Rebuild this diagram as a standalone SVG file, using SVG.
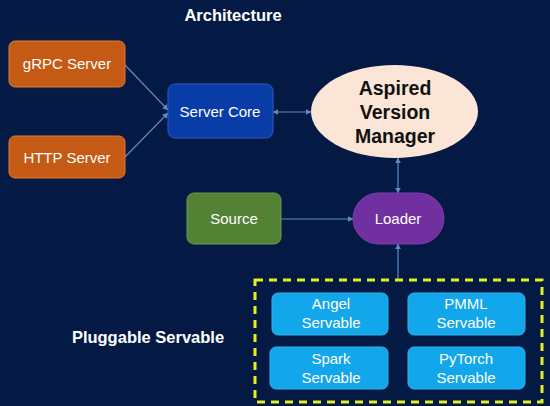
<svg xmlns="http://www.w3.org/2000/svg" width="550" height="406" viewBox="0 0 550 406">
  <defs>
    <marker id="ah" viewBox="0 0 10 10" refX="9" refY="5" markerWidth="6" markerHeight="6" orient="auto-start-reverse" markerUnits="userSpaceOnUse">
      <path d="M0,0 L10,5 L0,10 z" fill="#5b8ac6"/>
    </marker>
    <style>
      .lbl { font-family: "Liberation Sans", Arial, sans-serif; font-size: 15px; fill: #ffffff; text-anchor: middle; }
      .ttl { font-family: "Liberation Sans", Arial, sans-serif; font-size: 16.5px; font-weight: bold; fill: #ffffff; }
      .avm { font-family: "Liberation Sans", Arial, sans-serif; font-size: 19.5px; font-weight: bold; fill: #111111; text-anchor: middle; }
      .edge { stroke: #5b8ac6; stroke-width: 1.2; fill: none; }
      .srv { fill: #12a6ea; stroke: #2ab4f0; stroke-width: 1; }
      .svl { font-family: "Liberation Sans", Arial, sans-serif; font-size: 15px; fill: #ffffff; text-anchor: middle; }
    </style>
  </defs>
  <rect x="0" y="0" width="550" height="406" fill="#041a45"/>

  <text class="ttl" x="233" y="21" text-anchor="middle">Architecture</text>
  <text class="ttl" x="148" y="343" text-anchor="middle">Pluggable Servable</text>

  <g id="connectors">
    <line class="edge" x1="125" y1="65" x2="168" y2="110" marker-end="url(#ah)"/>
    <line class="edge" x1="125" y1="157" x2="168" y2="113" marker-end="url(#ah)"/>
    <line class="edge" x1="273" y1="112" x2="311" y2="112" marker-start="url(#ah)" marker-end="url(#ah)"/>
    <line class="edge" x1="398" y1="158" x2="398" y2="193" marker-start="url(#ah)" marker-end="url(#ah)"/>
    <line class="edge" x1="281" y1="219" x2="353" y2="219" marker-end="url(#ah)"/>
    <line class="edge" x1="398" y1="279" x2="398" y2="244" marker-end="url(#ah)"/>
  </g>

  <g id="grpc-server">
    <rect x="9" y="41" width="116" height="46" rx="6" fill="#c55a14" stroke="#df7a36" stroke-width="1"/>
    <text class="lbl" x="67" y="69">gRPC Server</text>
  </g>
  <g id="http-server">
    <rect x="9" y="136" width="116" height="42" rx="6" fill="#c55a14" stroke="#df7a36" stroke-width="1"/>
    <text class="lbl" x="67" y="163">HTTP Server</text>
  </g>
  <g id="server-core">
    <rect x="168" y="84" width="105" height="54" rx="7" fill="#0a3ca8" stroke="#2b5cc4" stroke-width="1"/>
    <text class="lbl" x="220" y="117">Server Core</text>
  </g>
  <g id="aspired-version-manager">
    <ellipse cx="394.5" cy="111.5" rx="83.5" ry="46.5" fill="#fbe5d6"/>
    <text class="avm" x="395" y="95">Aspired</text>
    <text class="avm" x="395" y="119">Version</text>
    <text class="avm" x="395" y="143">Manager</text>
  </g>
  <g id="source">
    <rect x="187" y="193" width="94" height="51" rx="7" fill="#548235" stroke="#6a9a48" stroke-width="1"/>
    <text class="lbl" x="234" y="224">Source</text>
  </g>
  <g id="loader">
    <rect x="353" y="193" width="91" height="51" rx="25.5" fill="#7030a0" stroke="#7f3cb0" stroke-width="1"/>
    <text class="lbl" x="398" y="224">Loader</text>
  </g>

  <g id="pluggable-servable">
    <rect x="255" y="280" width="287" height="122" fill="none" stroke="#e4ef1c" stroke-width="3" stroke-dasharray="8,6"/>
  </g>
  <g id="angel-servable">
    <rect class="srv" x="272" y="293" width="116" height="42" rx="6"/>
    <text class="svl" x="331" y="309">Angel</text>
    <text class="svl" x="331" y="328">Servable</text>
  </g>
  <g id="pmml-servable">
    <rect class="srv" x="408" y="293" width="117" height="42" rx="6"/>
    <text class="svl" x="466" y="309">PMML</text>
    <text class="svl" x="466" y="328">Servable</text>
  </g>
  <g id="spark-servable">
    <rect class="srv" x="270" y="347" width="118" height="42" rx="6"/>
    <text class="svl" x="331" y="364">Spark</text>
    <text class="svl" x="331" y="383">Servable</text>
  </g>
  <g id="pytorch-servable">
    <rect class="srv" x="408" y="347" width="117" height="42" rx="6"/>
    <text class="svl" x="466" y="364">PyTorch</text>
    <text class="svl" x="466" y="383">Servable</text>
  </g>
</svg>
